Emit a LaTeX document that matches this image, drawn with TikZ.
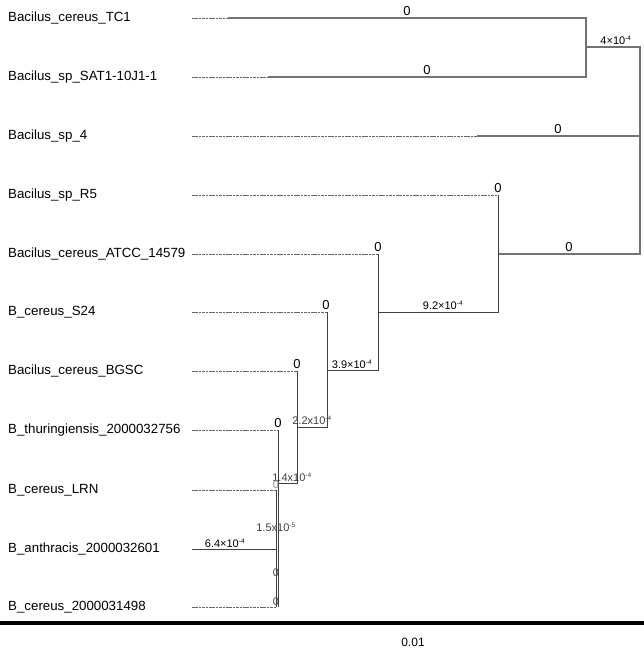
\documentclass[tikz,border=0pt]{standalone}
\usepackage{fontspec}
\setmainfont{Liberation Sans}
\begin{document}
\begin{tikzpicture}[x=1pt,y=-1pt,
  leaf/.style={anchor=west,font=\fontsize{13.3}{15}\selectfont,inner sep=0pt},
  blen/.style={font=\fontsize{13}{15}\selectfont,inner sep=0pt,anchor=base},
  blens/.style={font=\fontsize{11}{13}\selectfont,inner sep=0pt,anchor=base},
  dotline/.style={draw=black!60,line width=0.9pt,dash pattern=on 2.6pt off 0.8pt},
  lbranch/.style={draw=black!55,line width=1.3pt},
  dbranch/.style={draw=black!75,line width=1pt},
  scalebar/.style={draw=black,line width=4pt}]
\useasboundingbox (0,0) rectangle (644,649);
% leaf labels
\node[leaf] (L1) at (8,18) {Bacilus\_cereus\_TC1};
\node[leaf] (L2) at (8,77) {Bacilus\_sp\_SAT1-10J1-1};
\node[leaf] (L3) at (8,136) {Bacilus\_sp\_4};
\node[leaf] (L4) at (8,195) {Bacilus\_sp\_R5};
\node[leaf] (L5) at (8,254) {Bacilus\_cereus\_ATCC\_14579};
\node[leaf] (L6) at (8,312) {B\_cereus\_S24};
\node[leaf] (L7) at (8,371) {Bacilus\_cereus\_BGSC};
\node[leaf] (L8) at (8,430) {B\_thuringiensis\_2000032756};
\node[leaf] (L9) at (8,490) {B\_cereus\_LRN};
\node[leaf] (L10) at (8,549) {B\_anthracis\_2000032601};
\node[leaf] (L11) at (8,607) {B\_cereus\_2000031498};
% coordinates
\coordinate (d1) at (192,18);  \coordinate (s1) at (228,18);  \coordinate (t1) at (586,18);
\coordinate (d2) at (192,77);  \coordinate (s2) at (268,77);  \coordinate (t2) at (586,77);
\coordinate (n1) at (586,47);  \coordinate (n1r) at (640,47);
\coordinate (d3) at (192,136); \coordinate (s3) at (477,136); \coordinate (t3) at (640,136);
\coordinate (d4) at (192,195); \coordinate (t4) at (498,195);
\coordinate (n3) at (498,254); \coordinate (n3r) at (640,254);
\coordinate (d5) at (192,254); \coordinate (t5) at (378,254);
\coordinate (n4) at (378,312); \coordinate (n4b) at (498,312);
\coordinate (d6) at (192,312); \coordinate (t6) at (327,312);
\coordinate (n5) at (327,370); \coordinate (n5b) at (378,370);
\coordinate (d7) at (192,371); \coordinate (t7) at (297,371);
\coordinate (n6) at (297,427); \coordinate (n6b) at (327,427);
\coordinate (d8) at (192,430); \coordinate (t8) at (278,430);
\coordinate (n7) at (278,483); \coordinate (n7b) at (297,483);
\coordinate (d9) at (192,490); \coordinate (t9) at (277,490);
\coordinate (d10) at (192,549); \coordinate (t10) at (277,549);
\coordinate (d11) at (192,607); \coordinate (t11) at (277,607);
\coordinate (b8) at (278,607); \coordinate (b9) at (276,607); \coordinate (u9) at (276,490);
% dotted leader lines
\draw[dotline] (d1) -- (s1);
\draw[dotline] (d2) -- (s2);
\draw[dotline] (d3) -- (s3);
\draw[dotline] (d4) -- (t4);
\draw[dotline] (d5) -- (t5);
\draw[dotline] (d6) -- (t6);
\draw[dotline] (d7) -- (t7);
\draw[dotline] (d8) -- (t8);
\draw[dotline] (d9) -- (t9);
\draw[dotline] (d11) -- (t11);
% upper (light) branches
\draw[lbranch] (s1) -- (t1) -- (t2) -- (s2);
\draw[lbranch] (n1) -- (n1r) -- (n3r) -- (n3);
\draw[lbranch] (s3) -- (t3);
% lower (dark) branches
\draw[dbranch] (t4) -- (n4b) -- (n4);
\draw[dbranch] (t5) -- (n5b) -- (n5);
\draw[dbranch] (t6) -- (n6b) -- (n6);
\draw[dbranch] (t7) -- (n7b) -- (n7);
\draw[dbranch] (t8) -- (b8);
\draw[dbranch] (u9) -- (b9);
\draw[dbranch] (d10) -- (t10);
% branch length labels
\node[blen] (e1) at (407,15) {0};
\node[blen] (e2) at (427,74) {0};
\node[blens] (e3) at (616,44) {4×10\textsuperscript{\fontsize{6.5}{7}\selectfont -4}};
\node[blen] (e4) at (558,133) {0};
\node[blen] (e5) at (498,192) {0};
\node[blen] (e6) at (569,251) {0};
\node[blen] (e7) at (378,251) {0};
\node[blens] (e8) at (443,309) {9.2×10\textsuperscript{\fontsize{6.5}{7}\selectfont -4}};
\node[blen] (e9) at (326,309) {0};
\node[blens] (e10) at (352,368) {3.9×10\textsuperscript{\fontsize{6.5}{7}\selectfont -4}};
\node[blen] (e11) at (297,368) {0};
\node[blens,text=black!75] (e12) at (312,424) {2.2x10\textsuperscript{\fontsize{6.5}{7}\selectfont -4}};
\node[blen] (e13) at (278,427) {0};
\node[blens,text=black!75] (e14) at (292,481) {1.4x10\textsuperscript{\fontsize{6.5}{7}\selectfont -4}};
\node[blens,text=black!45] (e15) at (276,488) {0};
\node[blens,text=black!75] (e16) at (276,531) {1.5x10\textsuperscript{\fontsize{6.5}{7}\selectfont -5}};
\node[blens] (e17) at (225,547) {6.4×10\textsuperscript{\fontsize{6.5}{7}\selectfont -4}};
\node[blens,text=black!75] (e18) at (276,576) {0};
\node[blens,text=black!75] (e19) at (276,605) {0};
% scale bar
\coordinate (sb1) at (0,623); \coordinate (sb2) at (644,623);
\draw[scalebar] (sb1) -- (sb2);
\node[blens,font=\fontsize{12}{14}\selectfont] (sbl) at (413,646) {0.01};
\end{tikzpicture}
\end{document}
